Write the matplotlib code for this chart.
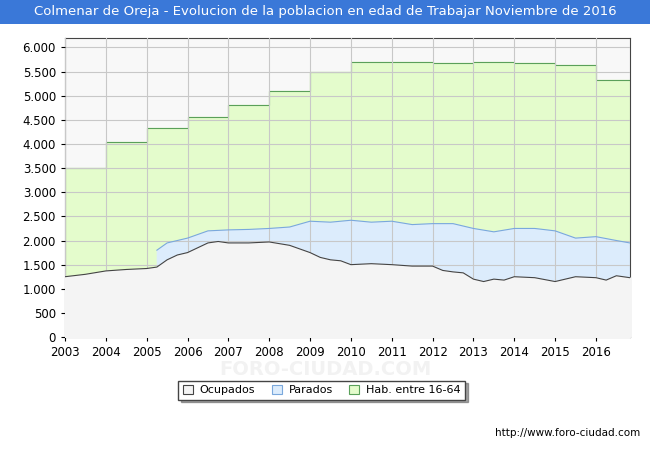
import matplotlib
matplotlib.use("Agg")
import matplotlib.pyplot as plt
from matplotlib.patches import Rectangle

hab_years = [2003, 2004, 2005, 2006, 2007, 2008, 2009, 2010, 2011, 2012, 2013, 2014, 2015, 2016, 2016.83]
hab_vals = [3500, 4050, 4330, 4550, 4800, 5100, 5500, 5700, 5700, 5680, 5700, 5680, 5630, 5320, 5320]

ocu_t = [2003, 2003.5, 2004, 2004.5, 2005, 2005.25, 2005.5, 2005.75, 2006, 2006.25, 2006.5, 2006.75,
         2007, 2007.5, 2008, 2008.5, 2009, 2009.25, 2009.5, 2009.75, 2010, 2010.5, 2011, 2011.5,
         2012, 2012.25, 2012.5, 2012.75, 2013, 2013.25, 2013.5, 2013.75, 2014, 2014.5, 2015, 2015.5,
         2016, 2016.25, 2016.5, 2016.83]
ocu_v = [1250, 1300, 1370, 1400, 1420, 1450, 1600, 1700, 1750, 1850, 1950, 1980,
         1950, 1950, 1970, 1900, 1750, 1650, 1600, 1580, 1500, 1520, 1500, 1470,
         1470, 1380, 1350, 1330, 1200, 1150, 1200, 1180, 1250, 1230, 1150, 1250,
         1230, 1180, 1270, 1230]

par_t = [2005.25, 2005.5, 2006, 2006.5, 2007, 2007.5, 2008, 2008.5, 2009, 2009.5, 2010, 2010.5,
         2011, 2011.5, 2012, 2012.5, 2013, 2013.5, 2014, 2014.5, 2015, 2015.5, 2016, 2016.5, 2016.83]
tot_v = [1800, 1950, 2050, 2200, 2220, 2230, 2250, 2280, 2400, 2380, 2420, 2380,
         2400, 2330, 2350, 2350, 2250, 2180, 2250, 2250, 2200, 2050, 2080, 2000, 1950]

fig = plt.figure(figsize=(6.5, 4.5), dpi=100)
fig.patch.set_facecolor("white")
fig.patches.append(Rectangle((0, 1 - 24/450), 1, 24/450, transform=fig.transFigure,
                             facecolor="#3a78d8", edgecolor="none"))
fig.text(0.5, 1 - 12/450, "Colmenar de Oreja - Evolucion de la poblacion en edad de Trabajar Noviembre de 2016",
         color="white", ha="center", va="center", fontsize=9.5)

fig.text(0.5, 0.178, "FORO-CIUDAD.COM", color="#f2f2f2", fontsize=14, ha="center", va="center",
         fontweight="bold", zorder=0)

ax = fig.add_axes([0.1, 0.251, 0.869, 0.665])
ax.set_facecolor("#f8f8f8")
ax.fill_between(hab_years, hab_vals, step="post", color="#e4fccc", zorder=1)
ax.step(hab_years, hab_vals, where="post", color="#5aa05a", lw=0.8, zorder=2)
ax.fill_between(par_t, tot_v, color="#dcecfc", zorder=2)
ax.plot(par_t, tot_v, color="#7aa8dc", lw=0.8, zorder=3)
ax.fill_between(ocu_t, ocu_v, color="#f4f4f4", zorder=3)
ax.plot(ocu_t, ocu_v, color="#444444", lw=0.8, zorder=4)

ax.set_xlim(2003, 2016.83)
ax.set_ylim(0, 6200)
ax.set_xticks(range(2003, 2017))
ax.set_yticks(range(0, 6001, 500))
ax.set_yticklabels([f"{v:,}".replace(",", ".") for v in range(0, 6001, 500)])
ax.tick_params(labelsize=8.5, length=3)
ax.grid(True, color="#c8c8c8", lw=0.8, zorder=5)
ax.set_axisbelow(False)
for s in ax.spines.values():
    s.set_color("#444444")

handles = [Rectangle((0, 0), 1, 1, fc="#f4f4f4", ec="#444444", lw=0.8),
           Rectangle((0, 0), 1, 1, fc="#dcecfc", ec="#7aa8dc", lw=0.8),
           Rectangle((0, 0), 1, 1, fc="#e4fccc", ec="#5aa05a", lw=0.8)]
leg = fig.legend(handles, ["Ocupados", "Parados", "Hab. entre 16-64"], loc="center",
                 bbox_to_anchor=(0.495, 0.133), ncol=3, fontsize=8, frameon=True,
                 fancybox=False, shadow=True, edgecolor="#444444", handlelength=0.9, handleheight=0.8,
                 columnspacing=1.5, handletextpad=0.6)
fig.text(0.985, 0.037, "http://www.foro-ciudad.com", ha="right", va="center", fontsize=7.5)
fig.savefig("out.png", dpi=100)
